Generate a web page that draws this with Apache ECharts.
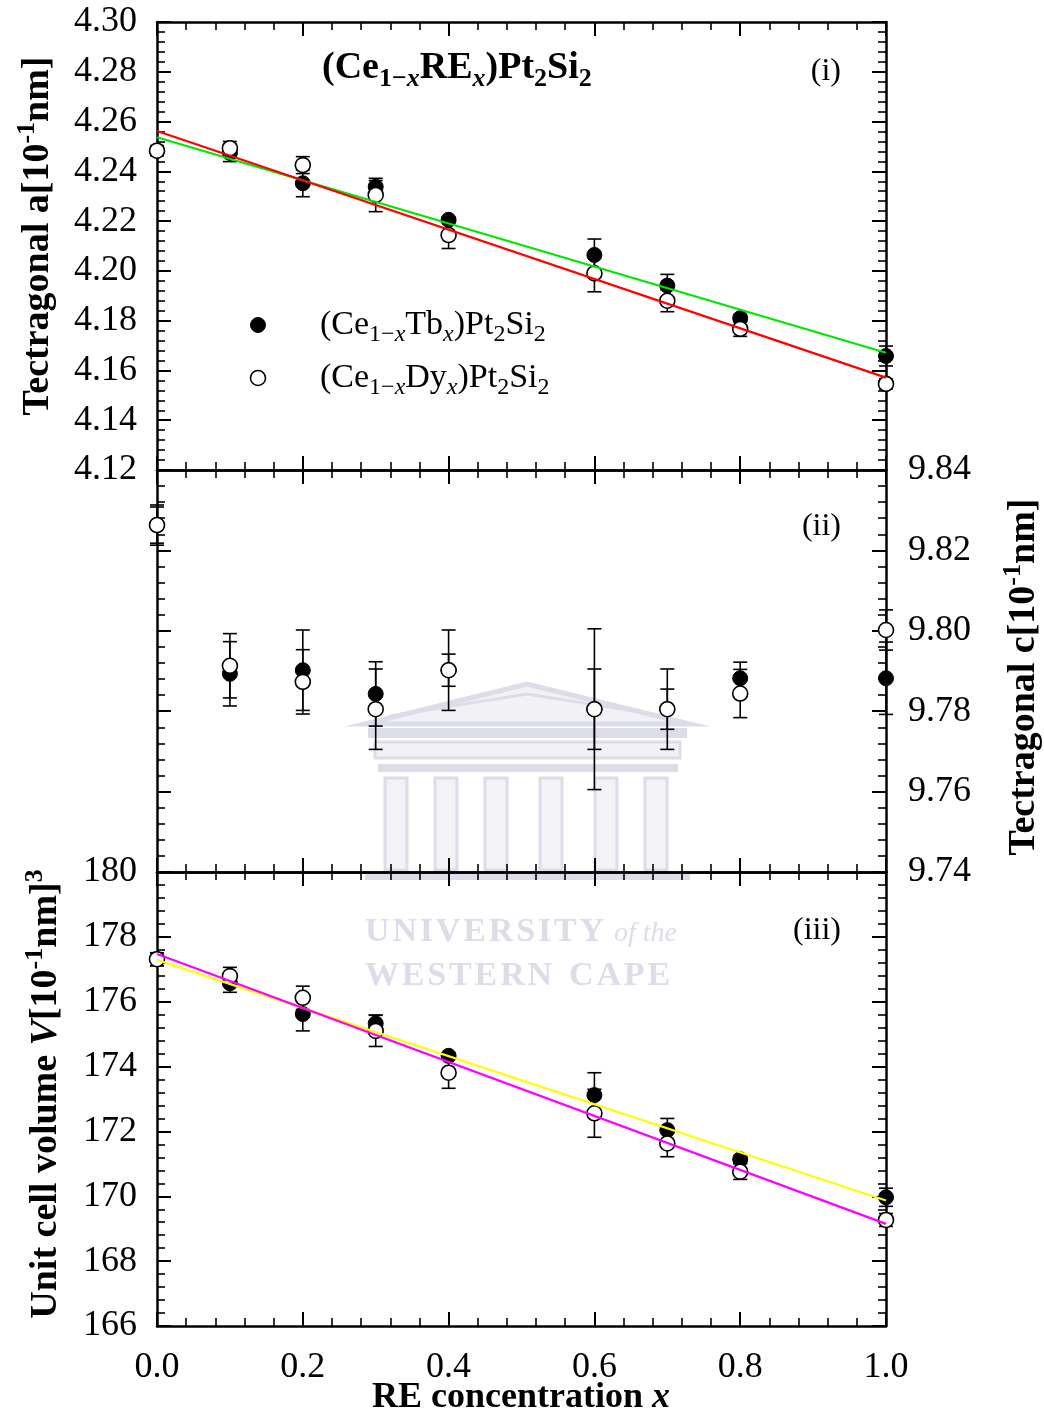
<!DOCTYPE html>
<html>
<head>
<meta charset="utf-8">
<script src="https://cdn.jsdelivr.net/npm/echarts@6/dist/echarts.min.js"></script>
<style>html,body{margin:0;padding:0;background:#fff;}#c{width:1044px;height:1421px;}</style>
</head>
<body>
<div id="c"></div>
<script>
// ---- data ----
const xVals = [0, 0.1, 0.2, 0.3, 0.4, 0.6, 0.7, 0.8, 1.0];
const xTicks = [0.0, 0.2, 0.4, 0.6, 0.8, 1.0];
const fitX = [0, 1];

// panel (i): lattice parameter a
const aTb = [4.2483, 4.2474, 4.2352, 4.2338, 4.2205, 4.2064, 4.1941, 4.1810, 4.1658];
const aTbErr = [0.002, 0.0035, 0.0054, 0.0025, 0.001, 0.0064, 0.0045, 0.0015, 0.004];
const aDy = [4.2483, 4.2493, 4.2425, 4.2305, 4.2144, 4.1990, 4.1880, 4.1767, 4.1546];
const aDyErr = [0.002, 0.0027, 0.0034, 0.0067, 0.0054, 0.0074, 0.0044, 0.003, 0.002];
const aTbFit = [4.2537, 4.1671];
const aDyFit = [4.2562, 4.1571];
const aTicks = [4.12, 4.14, 4.16, 4.18, 4.20, 4.22, 4.24, 4.26, 4.28, 4.30];

// panel (ii): lattice parameter c
const cTb = [9.8263, 9.7893, 9.7902, 9.7843, 9.7902, 9.7805, 9.7805, 9.7882, 9.7882];
const cTbErr = [0.0045, 0.008, 0.010, 0.008, 0.004, 0.010, 0.005, 0.004, 0.009];
const cDy = [9.8263, 9.7913, 9.7873, 9.7805, 9.7902, 9.7805, 9.7805, 9.7844, 9.8002];
const cDyErr = [0.005, 0.008, 0.008, 0.010, 0.010, 0.020, 0.010, 0.006, 0.005];
const cTicks = [9.74, 9.76, 9.78, 9.80, 9.82, 9.84];

// panel (iii): unit cell volume
const vTb = [177.31, 176.57, 175.62, 175.33, 174.33, 173.12, 172.04, 171.14, 169.97];
const vTbErr = [0.2, 0.28, 0.52, 0.26, 0.1, 0.69, 0.36, 0.12, 0.28];
const vDy = [177.31, 176.79, 176.12, 175.10, 173.81, 172.56, 171.63, 170.76, 169.27];
const vDyErr = [0.2, 0.27, 0.36, 0.48, 0.48, 0.74, 0.41, 0.24, 0.2];
const vTbFit = [177.29, 169.87];
const vDyFit = [177.47, 169.15];
const vTicks = [166, 168, 170, 172, 174, 176, 178, 180];

// ---- style ----
const FONT = '"Liberation Serif", "Times New Roman", serif';
const grids = [
  {left: 157, top: 22, width: 729, height: 448},
  {left: 157, top: 470, width: 729, height: 402},
  {left: 157, top: 872, width: 729, height: 454}
];

function xAxisCfg(gi, position, showLabel) {
  return {
    type: 'value', gridIndex: gi, position: position,
    min: xTicks[0], max: xTicks[xTicks.length - 1], interval: xTicks[1] - xTicks[0],
    axisLine: {show: true, onZero: false, lineStyle: {color: '#000', width: 2.5}},
    axisTick: {show: true, inside: true, length: 14, lineStyle: {color: '#000', width: 2}},
    minorTick: {show: true, splitNumber: 5, length: 8, lineStyle: {color: '#000', width: 1.6}},
    splitLine: {show: false},
    axisLabel: {show: showLabel, margin: 24, fontSize: 36, fontFamily: FONT, color: '#000',
      formatter: v => v.toFixed(1)}
  };
}
function yAxisCfg(gi, position, ticks, showLabel, digits) {
  return {
    type: 'value', gridIndex: gi, position: position,
    min: ticks[0], max: ticks[ticks.length - 1], interval: +(ticks[1] - ticks[0]).toFixed(4),
    axisLine: {show: true, onZero: false, lineStyle: {color: '#000', width: 2.5}},
    axisTick: {show: true, inside: true, length: 14, lineStyle: {color: '#000', width: 2}},
    minorTick: {show: true, splitNumber: 5, length: 8, lineStyle: {color: '#000', width: 1.6}},
    splitLine: {show: false},
    axisLabel: {show: showLabel, margin: position === 'left' ? 20 : 22, fontSize: 36, fontFamily: FONT, color: '#000',
      formatter: v => v.toFixed(digits)}
  };
}

const xAxes = [], yAxes = [];
for (let g = 0; g < 3; g++) {
  xAxes.push(xAxisCfg(g, 'bottom', g === 2));
  xAxes.push(xAxisCfg(g, 'top', false));
}
yAxes.push(yAxisCfg(0, 'left', aTicks, true, 2));
yAxes.push(yAxisCfg(0, 'right', aTicks, false, 2));
yAxes.push(yAxisCfg(1, 'left', cTicks, false, 2));
yAxes.push(yAxisCfg(1, 'right', cTicks, true, 2));
yAxes.push(yAxisCfg(2, 'left', vTicks, true, 0));
yAxes.push(yAxisCfg(2, 'right', vTicks, false, 0));

function errSeries(xi, yi, vals, errs) {
  return {
    type: 'custom', xAxisIndex: xi, yAxisIndex: yi, z: 2, silent: true,
    data: xVals.map((x, i) => [x, vals[i], errs[i]]),
    renderItem: function (params, api) {
      const x = api.value(0), y = api.value(1), e = api.value(2);
      const t = api.coord([x, y + e]), b = api.coord([x, y - e]);
      const hw = 7;
      const st = {stroke: '#000', lineWidth: 1.6};
      return {type: 'group', children: [
        {type: 'line', shape: {x1: t[0], y1: t[1], x2: b[0], y2: b[1]}, style: st},
        {type: 'line', shape: {x1: t[0] - hw, y1: t[1], x2: t[0] + hw, y2: t[1]}, style: st},
        {type: 'line', shape: {x1: b[0] - hw, y1: b[1], x2: b[0] + hw, y2: b[1]}, style: st}
      ]};
    }
  };
}
function ptSeries(name, xi, yi, vals, open) {
  return {
    name: name, type: 'scatter', xAxisIndex: xi, yAxisIndex: yi, z: open ? 4 : 3,
    symbol: 'circle', symbolSize: 15, clip: false, silent: true,
    itemStyle: open ? {color: '#fff', borderColor: '#000', borderWidth: 1.6, opacity: 1} : {color: '#000', borderColor: '#000', borderWidth: 1, opacity: 1},
    data: xVals.map((x, i) => [x, vals[i]])
  };
}
function fitSeries(xi, yi, vals, color) {
  return {
    type: 'line', xAxisIndex: xi, yAxisIndex: yi, z: 5, showSymbol: false, silent: true,
    lineStyle: {color: color, width: 2.2},
    data: fitX.map((x, i) => [x, vals[i]])
  };
}

const series = [
  errSeries(0, 0, aTb, aTbErr), errSeries(0, 0, aDy, aDyErr),
  ptSeries('Tb', 0, 0, aTb, false), ptSeries('Dy', 0, 0, aDy, true),
  fitSeries(0, 0, aTbFit, '#00e600'), fitSeries(0, 0, aDyFit, '#ff0000'),

  errSeries(2, 3, cTb, cTbErr), errSeries(2, 3, cDy, cDyErr),
  ptSeries('Tb', 2, 3, cTb, false), ptSeries('Dy', 2, 3, cDy, true),

  errSeries(4, 4, vTb, vTbErr), errSeries(4, 4, vDy, vDyErr),
  ptSeries('Tb', 4, 4, vTb, false), ptSeries('Dy', 4, 4, vDy, true),
  fitSeries(4, 4, vTbFit, '#ffff00'), fitSeries(4, 4, vDyFit, '#ff00ff')
];

const boldRich = {
  b: {fontFamily: FONT, fontSize: 38, fontWeight: 'bold', lineHeight: 48, fill: '#000'},
  bi: {fontFamily: FONT, fontSize: 38, fontWeight: 'bold', fontStyle: 'italic', lineHeight: 48, fill: '#000'},
  sup: {fontFamily: FONT, fontSize: 26, fontWeight: 'bold', lineHeight: 26, verticalAlign: 'top', fill: '#000'},
  bs: {fontFamily: FONT, fontSize: 26, fontWeight: 'bold', lineHeight: 26, verticalAlign: 'bottom', fill: '#000'},
  bsi: {fontFamily: FONT, fontSize: 26, fontWeight: 'bold', fontStyle: 'italic', lineHeight: 26, verticalAlign: 'bottom', fill: '#000'}
};
const normRich = {
  n: {fontFamily: FONT, fontSize: 34, lineHeight: 44, fill: '#000'},
  s: {fontFamily: FONT, fontSize: 24, lineHeight: 24, verticalAlign: 'bottom', fill: '#000'},
  si: {fontFamily: FONT, fontSize: 24, fontStyle: 'italic', lineHeight: 24, verticalAlign: 'bottom', fill: '#000'}
};

const wm = '#dcdde9';
const spaced = s => s.split('').join('\u200A');
const graphic = [
  // watermark (faint)
  {type: 'group', z: 1, silent: true, children: [
    {type: 'polygon', shape: {points: [[365, 724], [527, 684], [690, 724]]}, style: {stroke: wm, lineWidth: 5, fill: '#f1f1f6'}},
    {type: 'polyline', shape: {points: [[390, 716], [527, 694], [665, 716]]}, style: {stroke: wm, lineWidth: 3, fill: null}},
    {type: 'rect', shape: {x: 368, y: 728, width: 319, height: 10}, style: {fill: wm}},
    {type: 'rect', shape: {x: 375, y: 742, width: 305, height: 16}, style: {fill: '#f1f1f6', stroke: wm, lineWidth: 3}},
    {type: 'rect', shape: {x: 378, y: 764, width: 300, height: 8}, style: {fill: wm}},
    ...[385, 435, 485, 540, 595, 645].map(x => ({type: 'rect', shape: {x: x, y: 778, width: 22, height: 92}, style: {fill: '#f3f3f7', stroke: wm, lineWidth: 3}})),
    {type: 'rect', shape: {x: 365, y: 874, width: 325, height: 6}, style: {fill: wm}},
    {type: 'text', x: 365, y: 932, style: {text: spaced('UNIVERSITY'), font: 'bold 34px ' + FONT, fill: wm, verticalAlign: 'middle'}},
    {type: 'text', x: 614, y: 934, style: {text: 'of the', font: 'italic 28px ' + FONT, fill: wm, verticalAlign: 'middle'}},
    {type: 'text', x: 365, y: 976, style: {text: spaced('WESTERN') + '\u2002' + spaced('CAPE'), font: 'bold 34px ' + FONT, fill: wm, verticalAlign: 'middle'}}
  ]},
  // title
  {type: 'text', x: 322, y: 68, z: 10, style: {text: '{b|(Ce}{bs|1−}{bsi|x}{b|RE}{bsi|x}{b|)Pt}{bs|2}{b|Si}{bs|2}', rich: boldRich, verticalAlign: 'middle'}},
  // panel tags
  {type: 'text', x: 841, y: 72, z: 10, style: {text: '(i)', font: '32px ' + FONT, fill: '#000', align: 'right', verticalAlign: 'middle'}},
  {type: 'text', x: 841, y: 527, z: 10, style: {text: '(ii)', font: '32px ' + FONT, fill: '#000', align: 'right', verticalAlign: 'middle'}},
  {type: 'text', x: 841, y: 931, z: 10, style: {text: '(iii)', font: '32px ' + FONT, fill: '#000', align: 'right', verticalAlign: 'middle'}},
  // legend
  {type: 'circle', z: 10, shape: {cx: 258, cy: 325, r: 7.5}, style: {fill: '#000', stroke: '#000', lineWidth: 1}},
  {type: 'circle', z: 10, shape: {cx: 258, cy: 378, r: 7.5}, style: {fill: '#fff', stroke: '#000', lineWidth: 1.6}},
  {type: 'text', x: 320, y: 325, z: 10, style: {text: '{n|(Ce}{s|1−}{si|x}{n|Tb}{si|x}{n|)Pt}{s|2}{n|Si}{s|2}', rich: normRich, verticalAlign: 'middle'}},
  {type: 'text', x: 320, y: 378, z: 10, style: {text: '{n|(Ce}{s|1−}{si|x}{n|Dy}{si|x}{n|)Pt}{s|2}{n|Si}{s|2}', rich: normRich, verticalAlign: 'middle'}},
  // axis titles
  {type: 'text', x: 38, y: 236, rotation: Math.PI / 2, z: 10, style: {text: '{b|Tectragonal a[10}{sup|-1}{b|nm]}', rich: boldRich, align: 'center', verticalAlign: 'middle'}},
  {type: 'text', x: 1024, y: 677, rotation: Math.PI / 2, z: 10, style: {text: '{b|Tectragonal c[10}{sup|-1}{b|nm]}', rich: boldRich, align: 'center', verticalAlign: 'middle'}},
  {type: 'text', x: 46, y: 1094, rotation: Math.PI / 2, z: 10, style: {text: '{b|Unit cell volume }{bi|V}{b|[10}{sup|-1}{b|nm]}{sup|3}', rich: boldRich, align: 'center', verticalAlign: 'middle'}},
  {type: 'text', x: 521, y: 1398, z: 10, style: {text: '{b|RE concentration }{bi|x}', rich: {
    b: {fontFamily: FONT, fontSize: 36, fontWeight: 'bold', fill: '#000'},
    bi: {fontFamily: FONT, fontSize: 36, fontWeight: 'bold', fontStyle: 'italic', fill: '#000'}}, align: 'center', verticalAlign: 'middle'}}
];

const chart = echarts.init(document.getElementById('c'), null, {renderer: 'canvas'});
chart.setOption({
  animation: false,
  backgroundColor: '#fff',
  grid: grids,
  xAxis: xAxes,
  yAxis: yAxes,
  series: series,
  graphic: graphic
});
</script>
</body>
</html>
